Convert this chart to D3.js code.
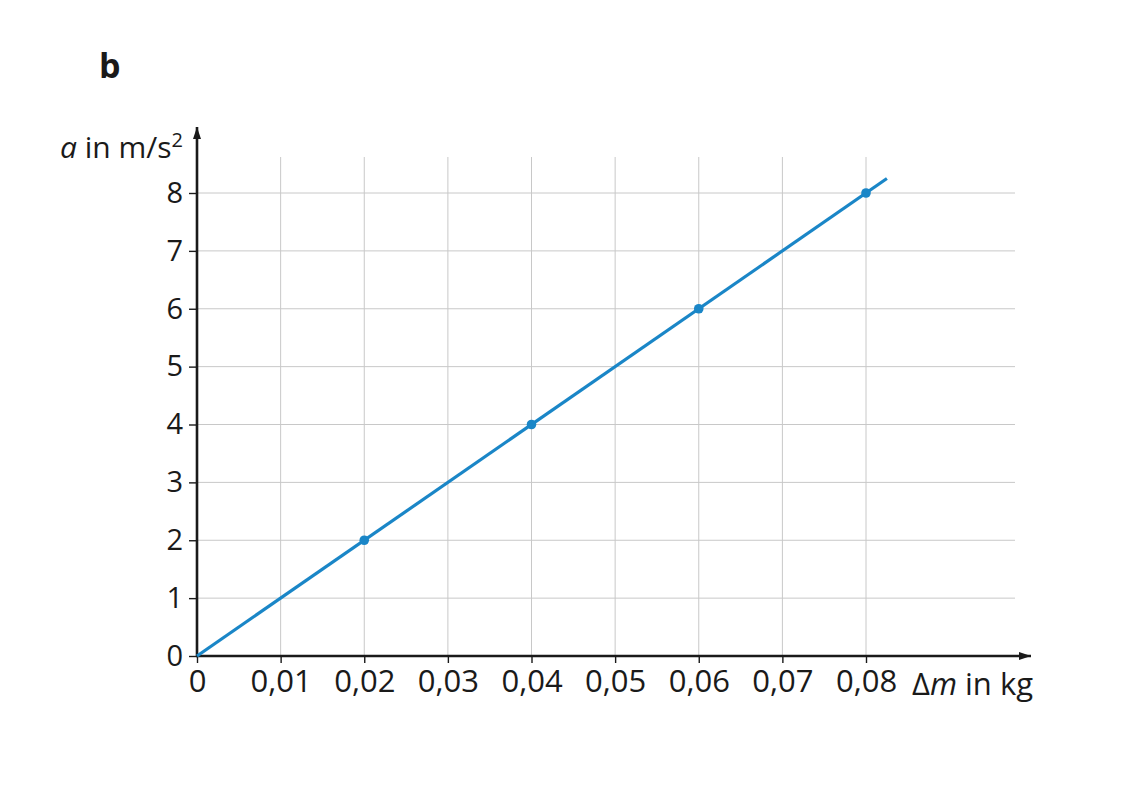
<!DOCTYPE html>
<html><head><meta charset="utf-8">
<script src="https://cdn.jsdelivr.net/npm/d3@7"></script>
<style>body{margin:0;background:#fff}svg{display:block}text{font-family:"Open Sans","Noto Sans",sans-serif;fill:#1a1a1a}</style>
</head><body>
<script>
const xTicks = [0, 0.01, 0.02, 0.03, 0.04, 0.05, 0.06, 0.07, 0.08];
const yTicks = [0, 1, 2, 3, 4, 5, 6, 7, 8];
const pointsX = [0.02, 0.04, 0.06, 0.08];
const pointsY = [2, 4, 6, 8];
const lineX = [0, 0.0825];
const lineY = [0, 8.25];

const W = 1123, H = 794;
const svg = d3.select("body").append("svg").attr("width", W).attr("height", H);
const x = d3.scaleLinear().domain([0, 0.08]).range([197, 866]);
const y = d3.scaleLinear().domain([0, 8]).range([656, 193]);
const fmt = d => d === 0 ? "0" : d3.format(".2f")(d).replace(".", ",");

// grid
const gridTop = 157, gridRight = 1015;
svg.append("g").selectAll("line").data(xTicks.slice(1)).join("line")
  .attr("x1", d => x(d)).attr("x2", d => x(d)).attr("y1", gridTop).attr("y2", y(0))
  .attr("stroke", "#c8c8c8").attr("stroke-width", 1);
svg.append("g").selectAll("line").data(yTicks.slice(1)).join("line")
  .attr("x1", x(0)).attr("x2", gridRight).attr("y1", d => y(d)).attr("y2", d => y(d))
  .attr("stroke", "#c8c8c8").attr("stroke-width", 1);

// axes
const xAxis = d3.axisBottom(x).tickValues(xTicks).tickFormat(fmt).tickSize(7).tickPadding(7);
const gx = svg.append("g").attr("transform", `translate(0,${y(0)})`).call(xAxis);
gx.select(".domain").remove();
gx.selectAll("line").attr("stroke", "#1a1a1a").attr("stroke-width", 1.4);
gx.selectAll("text").attr("font-size", 31).attr("font-family", "Open Sans").attr("fill", "#1a1a1a");

const yAxis = d3.axisLeft(y).tickValues(yTicks).tickSize(8).tickPadding(6);
const gy = svg.append("g").attr("transform", `translate(${x(0)},0)`).call(yAxis);
gy.select(".domain").remove();
gy.selectAll("line").attr("stroke", "#1a1a1a").attr("stroke-width", 1.4);
gy.selectAll("text").attr("font-size", 29).attr("font-family", "Open Sans").attr("fill", "#1a1a1a");

// axis lines with arrows
svg.append("defs").append("marker").attr("id", "arr").attr("viewBox", "0 0 12 10")
  .attr("refX", 12).attr("refY", 5).attr("markerWidth", 14).attr("markerHeight", 10)
  .attr("markerUnits", "userSpaceOnUse").attr("orient", "auto")
  .append("path").attr("d", "M0,1 L12,5 L0,9 Z").attr("fill", "#1a1a1a");
svg.append("line").attr("x1", x(0) - 1).attr("x2", 1031).attr("y1", y(0)).attr("y2", y(0))
  .attr("stroke", "#1a1a1a").attr("stroke-width", 2.6).attr("marker-end", "url(#arr)");
svg.append("line").attr("x1", x(0)).attr("x2", x(0)).attr("y1", y(0) + 1).attr("y2", 127)
  .attr("stroke", "#1a1a1a").attr("stroke-width", 2.6).attr("marker-end", "url(#arr)");

// data line
const blue = "#1a86c7";
svg.append("path").datum(lineX.map((d, i) => [d, lineY[i]]))
  .attr("d", d3.line().x(d => x(d[0])).y(d => y(d[1])))
  .attr("stroke", blue).attr("stroke-width", 3.2).attr("fill", "none");
svg.append("g").selectAll("circle").data(pointsX).join("circle")
  .attr("cx", d => x(d)).attr("cy", (d, i) => y(pointsY[i])).attr("r", 4.8).attr("fill", blue);

// labels
svg.append("text").attr("x", 99).attr("y", 78).attr("font-size", 34).attr("font-weight", "bold").text("b");
const yl = svg.append("text").attr("x", 183).attr("y", 158).attr("text-anchor", "end").attr("font-size", 30);
yl.append("tspan").attr("font-style", "italic").text("a");
yl.append("tspan").text(" in m/s");
yl.append("tspan").attr("font-size", 20).attr("dy", -11).text("2");
const xl = svg.append("text").attr("x", 1033).attr("y", 695).attr("text-anchor", "end").attr("font-size", 31);
xl.append("tspan").text("Δ");
xl.append("tspan").attr("font-style", "italic").text("m");
xl.append("tspan").text(" in kg");
</script>
</body></html>
